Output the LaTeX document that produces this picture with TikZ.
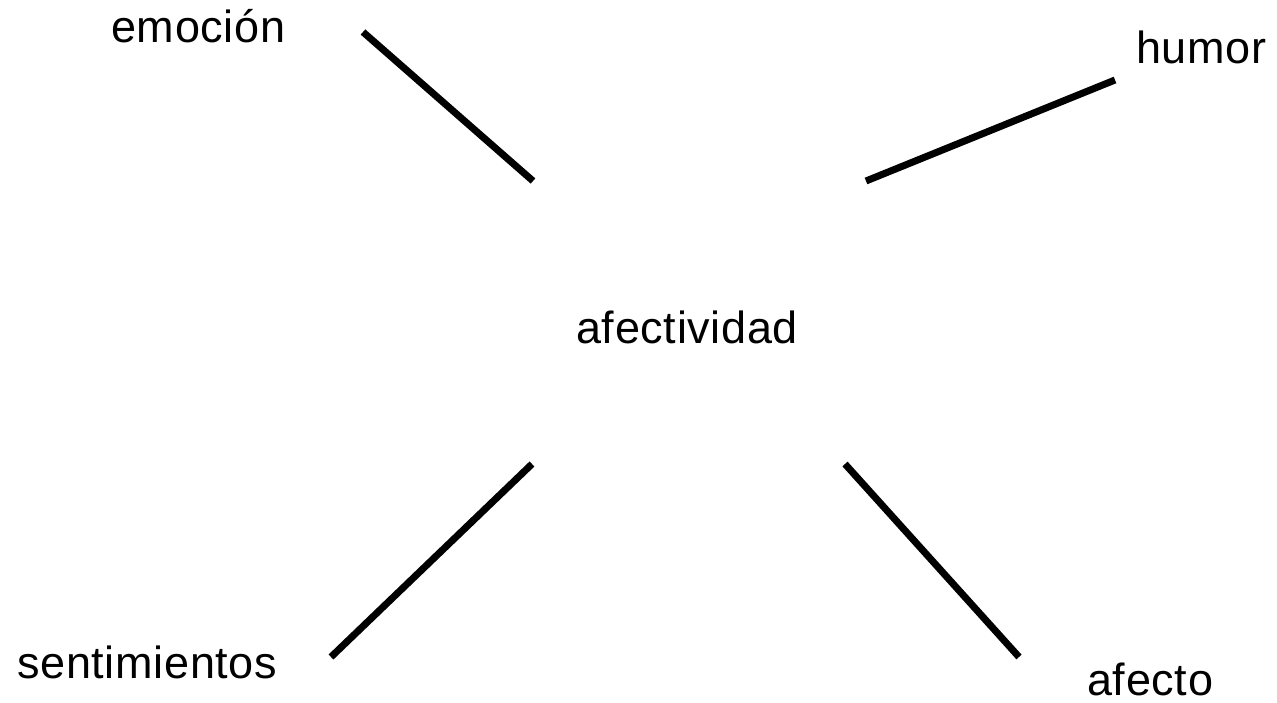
\documentclass[tikz,border=0pt]{standalone}
\usepackage{fontspec}
\setmainfont{Liberation Sans}[LetterSpace=1.5]
\begin{document}
\begin{tikzpicture}[x=1pt,y=-1pt,
  lbl/.style={inner sep=0pt,anchor=base west,font=\fontsize{45}{54}\selectfont,text=black},
  link/.style={line width=7pt,black}]
\useasboundingbox (0,0) rectangle (1277,703);
\node[lbl] (emo) at (111,43) {emoción};
\node[lbl] (hum) at (1136,64) {humor};
\node[lbl] (afv) at (576,343) {afectividad};
\node[lbl] (sen) at (17,678) {sentimientos};
\node[lbl] (afe) at (1087,695) {afecto};
\coordinate (e1) at (363,32);
\coordinate (e2) at (533,181);
\coordinate (h1) at (866,181);
\coordinate (h2) at (1115,80);
\coordinate (s1) at (532,464);
\coordinate (s2) at (331,657);
\coordinate (a1) at (845,464);
\coordinate (a2) at (1019,657);
\draw[link] (e1) -- (e2);
\draw[link] (h1) -- (h2);
\draw[link] (s1) -- (s2);
\draw[link] (a1) -- (a2);
\end{tikzpicture}
\end{document}
